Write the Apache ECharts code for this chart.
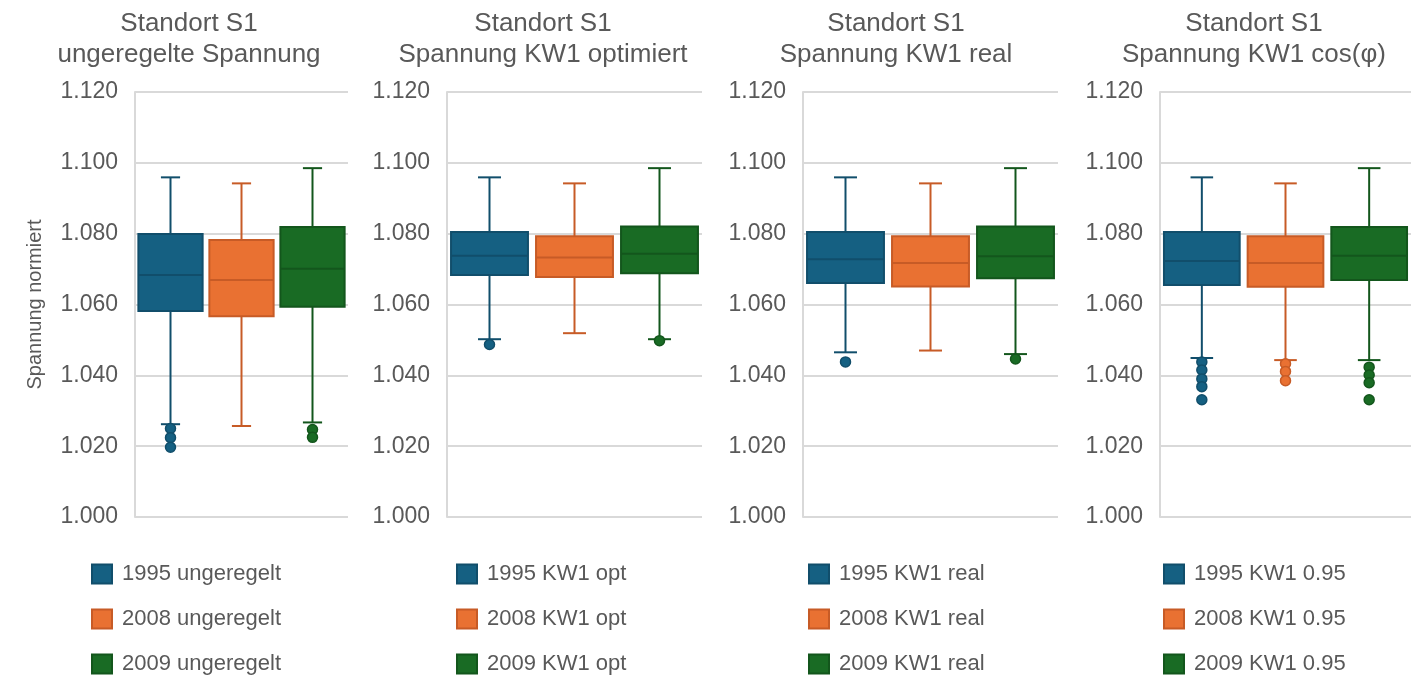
<!DOCTYPE html>
<html>
<head>
<meta charset="utf-8">
<script src="https://cdn.jsdelivr.net/npm/echarts@6/dist/echarts.min.js"></script>
<style>html,body{margin:0;padding:0;background:#fff}#c{width:1411px;height:681px}</style>
</head>
<body>
<div id="c"></div>
<script>
// ---- data ----
const categories = ['1995', '2008', '2009'];
const panelTitles = [
  'Standort S1\nungeregelte Spannung',
  'Standort S1\nSpannung KW1 optimiert',
  'Standort S1\nSpannung KW1 real',
  'Standort S1\nSpannung KW1 cos(φ)'
];
const legendNames = [
  ['1995 ungeregelt', '2008 ungeregelt', '2009 ungeregelt'],
  ['1995 KW1 opt', '2008 KW1 opt', '2009 KW1 opt'],
  ['1995 KW1 real', '2008 KW1 real', '2009 KW1 real'],
  ['1995 KW1 0.95', '2008 KW1 0.95', '2009 KW1 0.95']
];
// [min, Q1, median, Q3, max] per year
const boxUngeregelt = [
  [1.0262, 1.0582, 1.0683, 1.0799, 1.0959],
  [1.0257, 1.0567, 1.0669, 1.0782, 1.0942],
  [1.0267, 1.0594, 1.0701, 1.0819, 1.0985]
];
const boxOpt = [
  [1.0502, 1.0683, 1.0738, 1.0805, 1.0959],
  [1.0519, 1.0678, 1.0733, 1.0793, 1.0942],
  [1.0502, 1.0688, 1.0743, 1.0820, 1.0985]
];
const boxReal = [
  [1.0465, 1.0661, 1.0728, 1.0805, 1.0959],
  [1.0470, 1.0651, 1.0717, 1.0793, 1.0942],
  [1.0460, 1.0674, 1.0736, 1.0820, 1.0985]
];
const boxCos = [
  [1.0449, 1.0655, 1.0723, 1.0805, 1.0959],
  [1.0443, 1.0650, 1.0717, 1.0793, 1.0942],
  [1.0443, 1.0669, 1.0738, 1.0819, 1.0985]
];
const outUngeregelt = [[1.0250, 1.0224, 1.0197], [], [1.0247, 1.0225]];
const outOpt = [[1.0487], [], [1.0498]];
const outReal = [[1.0438], [], [1.0446]];
const outCos = [
  [1.0438, 1.0415, 1.0390, 1.0368, 1.0331],
  [1.0433, 1.0411, 1.0385],
  [1.0423, 1.0401, 1.0379, 1.0331]
];
const yTicks = [1.000, 1.020, 1.040, 1.060, 1.080, 1.100, 1.120];

const boxes = [boxUngeregelt, boxOpt, boxReal, boxCos];
const outliers = [outUngeregelt, outOpt, outReal, outCos];

// ---- styles ----
const fills = ['#156082', '#E97132', '#196B24'];
const strokes = ['#114E6B', '#C75B26', '#13561C'];
const gridPos = [
  { left: 135, width: 213 },
  { left: 447, width: 255 },
  { left: 803, width: 255 },
  { left: 1160, width: 253 }
];
const titleX = [189, 543, 896, 1254];
const legendX = [91, 456, 808, 1163];
const txtColor = '#595959';
const lineColor = '#D9D9D9';
const fontFamily = '"Liberation Sans", Arial, sans-serif';

function makeRender(fill, stroke) {
  return function (params, api) {
    const x = api.value(0);
    const pMin = api.coord([x, api.value(1)]);
    const pQ1 = api.coord([x, api.value(2)]);
    const pMed = api.coord([x, api.value(3)]);
    const pQ3 = api.coord([x, api.value(4)]);
    const pMax = api.coord([x, api.value(5)]);
    const band = api.size([1, 0])[0];
    const bw = band * 0.905, cw = band * 0.27;
    const cx = pMed[0];
    const ls = { stroke: stroke, lineWidth: 2 };
    return {
      type: 'group',
      children: [
        { type: 'line', shape: { x1: cx, y1: pQ3[1], x2: cx, y2: pMax[1] }, style: ls },
        { type: 'line', shape: { x1: cx, y1: pQ1[1], x2: cx, y2: pMin[1] }, style: ls },
        { type: 'line', shape: { x1: cx - cw / 2, y1: pMax[1], x2: cx + cw / 2, y2: pMax[1] }, style: ls },
        { type: 'line', shape: { x1: cx - cw / 2, y1: pMin[1], x2: cx + cw / 2, y2: pMin[1] }, style: ls },
        { type: 'rect', shape: { x: cx - bw / 2, y: pQ3[1], width: bw, height: pQ1[1] - pQ3[1] },
          style: { fill: fill, stroke: stroke, lineWidth: 2 } },
        { type: 'line', shape: { x1: cx - bw / 2, y1: pMed[1], x2: cx + bw / 2, y2: pMed[1] }, style: ls }
      ]
    };
  };
}

const grid = [], xAxis = [], yAxis = [], series = [], legend = [], title = [];
for (let p = 0; p < 4; p++) {
  grid.push({ left: gridPos[p].left, width: gridPos[p].width, top: 92, bottom: 164 });
  xAxis.push({
    type: 'category', gridIndex: p, data: categories,
    axisLine: { show: false }, axisTick: { show: false }, axisLabel: { show: false },
    splitLine: { show: false }
  });
  yAxis.push({
    type: 'value', gridIndex: p, min: 1.0, max: 1.12, interval: 0.02,
    name: p === 0 ? 'Spannung normiert' : '',
    nameLocation: 'middle', nameGap: 90,
    nameTextStyle: { color: txtColor, fontSize: 20, fontFamily: fontFamily },
    axisLine: { show: true, lineStyle: { color: lineColor, width: 2 } },
    axisTick: { show: false },
    axisLabel: {
      color: txtColor, fontSize: 23, fontFamily: fontFamily, margin: 17,
      formatter: function (v) { return v.toFixed(3); }
    },
    splitLine: { show: true, lineStyle: { color: lineColor, width: 2 } }
  });
  title.push({
    text: panelTitles[p], left: titleX[p], top: 8, textAlign: 'center', padding: 0,
    textStyle: { color: txtColor, fontSize: 26, fontWeight: 'normal', fontFamily: fontFamily, lineHeight: 31 }
  });
  legend.push({
    orient: 'vertical', left: legendX[p], top: 563, padding: 0,
    itemWidth: 20, itemHeight: 19, itemGap: 23, icon: 'rect', selectedMode: false,
    textStyle: { color: txtColor, fontSize: 22, fontFamily: fontFamily, padding: [0, 0, 0, 5] },
    data: legendNames[p].map((n, i) => ({
      name: n, icon: 'rect',
      itemStyle: { color: fills[i], borderColor: strokes[i], borderWidth: 2 }
    }))
  });
  for (let i = 0; i < 3; i++) {
    const b = boxes[p][i];
    series.push({
      type: 'custom', name: legendNames[p][i], xAxisIndex: p, yAxisIndex: p,
      itemStyle: { color: fills[i], borderColor: strokes[i], borderWidth: 2 },
      renderItem: makeRender(fills[i], strokes[i]),
      encode: { x: 0, y: [1, 2, 3, 4, 5] },
      data: [[i, b[0], b[1], b[2], b[3], b[4]]],
      z: 2
    });
    if (outliers[p][i].length) {
      series.push({
        type: 'scatter', name: legendNames[p][i], xAxisIndex: p, yAxisIndex: p,
        symbol: 'circle', symbolSize: 10,
        itemStyle: { color: fills[i], borderColor: strokes[i], borderWidth: 1.5, opacity: 1 },
        data: outliers[p][i].map(v => [i, v]),
        z: 3
      });
    }
  }
}

const chart = echarts.init(document.getElementById('c'), null, { renderer: 'canvas' });
chart.setOption({
  animation: false,
  backgroundColor: '#ffffff',
  title: title, grid: grid, xAxis: xAxis, yAxis: yAxis, legend: legend, series: series
});
</script>
</body>
</html>
